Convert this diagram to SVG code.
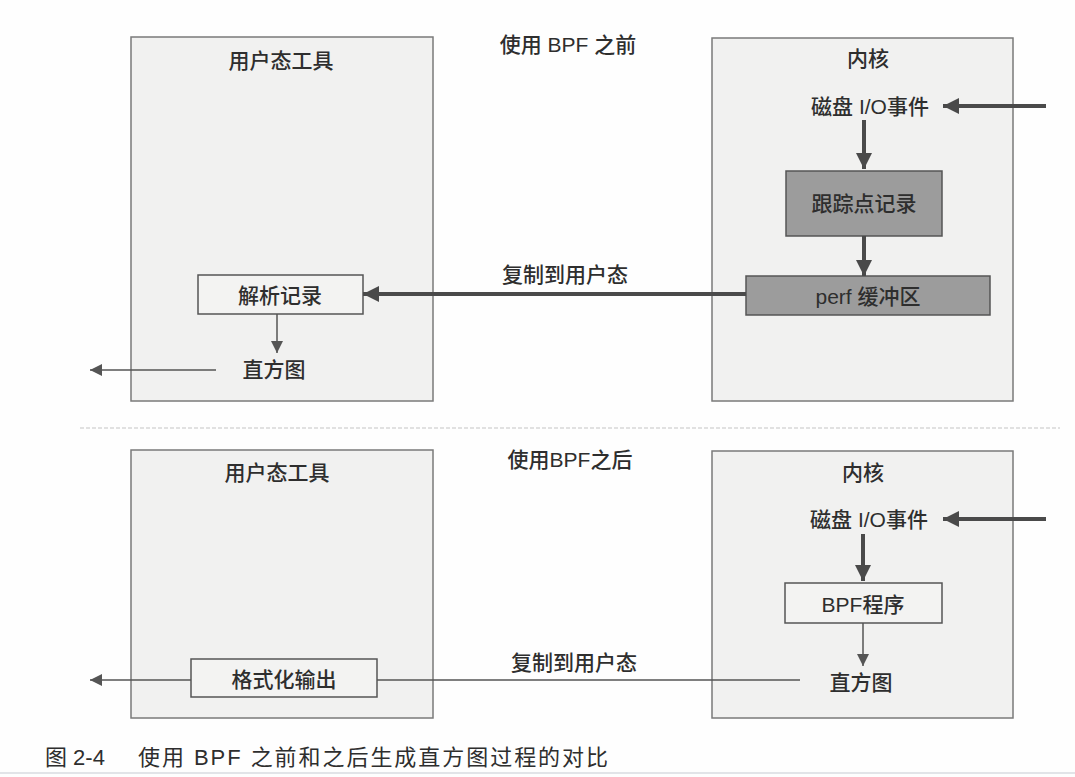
<svg xmlns="http://www.w3.org/2000/svg" width="1075" height="777" viewBox="0 0 1075 777">
<style>
text{font-family:"Liberation Sans","Noto Sans CJK SC",sans-serif;fill:#2e2e2e;font-size:21px;font-weight:500;text-anchor:middle;dominant-baseline:central}
.panel{fill:#f1f1f0;stroke:#7a7a7a;stroke-width:1.5}
.node{fill:#f3f3f2;stroke:#555;stroke-width:1.5}
.dark{fill:#9c9c9c;stroke:#555;stroke-width:1.5}
.thick{stroke:#4a4a4a;stroke-width:4;fill:none}
.thin{stroke:#555;stroke-width:1.5;fill:none}
</style>
<defs>
<marker id="ah" viewBox="0 0 10 10" refX="10" refY="5" markerWidth="22" markerHeight="16" markerUnits="userSpaceOnUse" orient="auto"><path d="M0,0L10,5L0,10z" fill="#4a4a4a"/></marker>
<marker id="ahs" viewBox="0 0 10 10" refX="10" refY="5" markerWidth="16" markerHeight="12" markerUnits="userSpaceOnUse" orient="auto"><path d="M0,0L10,5L0,10z" fill="#555"/></marker>
</defs>
<rect width="1075" height="777" fill="#fefefe"/>
<line x1="80" y1="428" x2="1060" y2="428" stroke="#d8d8d8" stroke-width="1.5" stroke-dasharray="4 2"/>
<line x1="0" y1="773" x2="1075" y2="773" stroke="#e2e4e8" stroke-width="2"/>

<g id="top-user">
<rect class="panel" x="131" y="37" width="302" height="364"/>
<text x="281" y="60">用户态工具</text>
</g>
<g id="top-title"><text x="568" y="44">使用 BPF 之前</text></g>
<g id="top-kernel">
<rect class="panel" x="712" y="38" width="301" height="363"/>
<text x="868" y="58">内核</text>
</g>
<g id="top-disk"><text x="870" y="106">磁盘 I/O事件</text></g>
<g id="top-trace"><rect class="dark" x="786" y="171" width="156" height="65"/><text x="864" y="203">跟踪点记录</text></g>
<g id="top-perf"><rect class="dark" x="746" y="276" width="244" height="39" fill="#a6a6a6"/><text x="868" y="296">perf 缓冲区</text></g>
<g id="top-parse"><rect class="node" x="198" y="275" width="165" height="39"/><text x="280" y="295">解析记录</text></g>
<g id="top-hist"><text x="274" y="369">直方图</text></g>

<g id="bottom-user">
<rect class="panel" x="131" y="450" width="302" height="268"/>
<text x="277" y="472">用户态工具</text>
</g>
<g id="bottom-title"><text x="570" y="459">使用BPF之后</text></g>
<g id="bottom-kernel">
<rect class="panel" x="712" y="451" width="301" height="267"/>
<text x="863" y="472">内核</text>
</g>
<g id="bottom-disk"><text x="869" y="519">磁盘 I/O事件</text></g>
<g id="bottom-bpf"><rect class="node" x="785" y="583" width="157" height="40"/><text x="863" y="604">BPF程序</text></g>
<g id="bottom-hist"><text x="861" y="682">直方图</text></g>
<g id="bottom-format"><rect class="node" x="191" y="659" width="186" height="38"/><text x="284" y="679">格式化输出</text></g>

<g id="connectors">
<line class="thick" x1="1046" y1="106" x2="943" y2="106" marker-end="url(#ah)"/>
<line class="thick" x1="864" y1="120" x2="864" y2="169" marker-end="url(#ah)"/>
<line class="thick" x1="864" y1="236" x2="864" y2="276" marker-end="url(#ah)"/>
<line class="thick" x1="746" y1="294" x2="363" y2="294" marker-end="url(#ah)"/>
<text x="565" y="274">复制到用户态</text>
<line class="thin" x1="277" y1="314" x2="277" y2="353" marker-end="url(#ahs)"/>
<line class="thin" x1="216" y1="370" x2="90" y2="370" marker-end="url(#ahs)"/>

<line class="thick" x1="1046" y1="519" x2="943" y2="519" marker-end="url(#ah)"/>
<line class="thick" x1="863" y1="534" x2="863" y2="581" marker-end="url(#ah)"/>
<line class="thin" x1="863" y1="623" x2="863" y2="666" marker-end="url(#ahs)"/>
<line class="thin" x1="800" y1="680" x2="377" y2="680"/>
<text x="574" y="662">复制到用户态</text>
<line class="thin" x1="191" y1="680" x2="90" y2="680" marker-end="url(#ahs)"/>
</g>
<g id="caption">
<text x="45" y="757" style="text-anchor:start;font-size:22px;font-weight:400">图 2-4</text>
<text x="138" y="757" textLength="470" lengthAdjust="spacing" style="text-anchor:start;font-size:22px;font-weight:400">使用 BPF 之前和之后生成直方图过程的对比</text>
</g>
</svg>
